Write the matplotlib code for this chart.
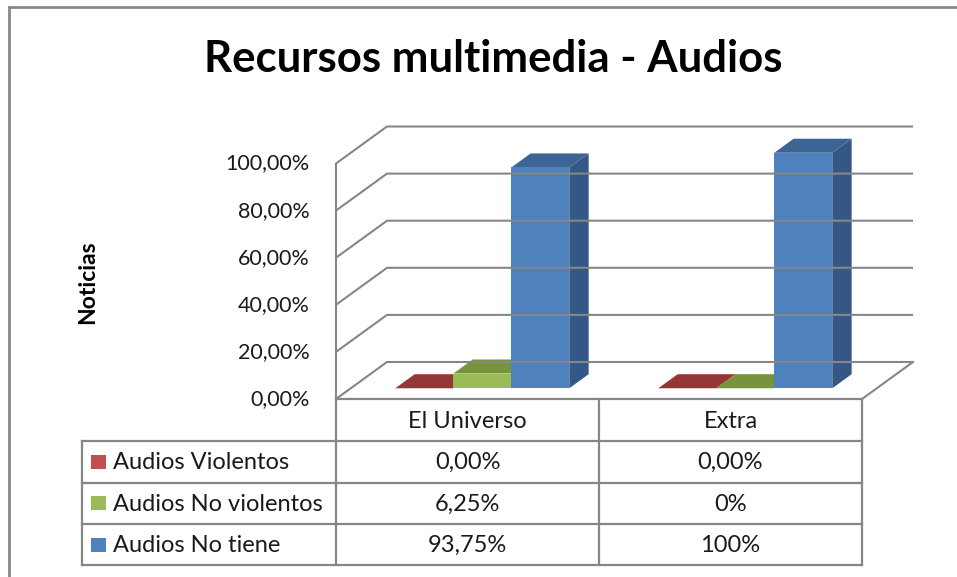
import matplotlib
matplotlib.use('Agg')
import matplotlib.pyplot as plt
from matplotlib.patches import Polygon, Rectangle

# ---------------- data ----------------
categories = ['El Universo', 'Extra']
series_names = ['Audios Violentos', 'Audios No violentos', 'Audios No tiene']
violentos = [0.0, 0.0]
no_violentos = [6.25, 0.0]
no_tiene = [93.75, 100.0]
table_values = [['0,00%', '0,00%'],
                ['6,25%', '0%'],
                ['93,75%', '100%']]
y_ticks = [0, 20, 40, 60, 80, 100]
y_tick_labels = ['0,00%', '20,00%', '40,00%', '60,00%', '80,00%', '100,00%']
title_text = 'Recursos multimedia - Audios'
y_label = 'Noticias'

# ---------------- style ----------------
FONT = ['Lato', 'DejaVu Sans']
plt.rcParams['font.family'] = FONT
front_cols = ['#C0504D', '#9BBB59', '#4F81BD']
side_cols = ['#8C3836', '#718B3E', '#345785']
top_cols = ['#953735', '#77933C', '#3C6494']
GRID = '#868686'

W, H = 957, 577
fig = plt.figure(figsize=(W / 100, H / 100), dpi=100)

# overlay axes in pixel coordinates (table, texts, border)
ov = fig.add_axes([0, 0, 1, 1], zorder=0)
ov.set_xlim(0, W)
ov.set_ylim(H, 0)
ov.axis('off')

# plot axes: front plane of the 3-D box
X0, X1 = 336, 862          # pixel x of category 0 and 2
Y0, Y100 = 399, 163.5      # pixel y of 0 % and 100 %
ax = fig.add_axes([X0 / W, 1 - Y0 / H, (X1 - X0) / W, (Y0 - Y100) / H], zorder=1)
ax.set_xlim(0, len(categories))
ax.set_ylim(0, 100)
ax.axis('off')
ax.patch.set_alpha(0)

px_per_cat = (X1 - X0) / len(categories)
px_per_pct = (Y0 - Y100) / 100
DX = 51 / px_per_cat       # depth offset in category units
DY = 37 / px_per_pct       # depth offset in percent units
ncat = len(categories)

# back wall grid lines and floor
for t in y_ticks:
    ax.plot([0, DX, ncat + DX], [t, t + DY, t + DY], color=GRID, lw=1.5,
            clip_on=False, solid_joinstyle='miter', solid_capstyle='butt')
ax.plot([0, 0], [0, 100], color=GRID, lw=1.5, clip_on=False)
ax.plot([ncat, ncat + DX], [0, DY], color=GRID, lw=1.5, clip_on=False)

# tick labels
for t, lab in zip(y_ticks, y_tick_labels):
    ax.text(-0.1, t, lab, ha='right', va='center', fontsize=15.5,
            color='#1a1a1a', clip_on=False)

# bars
values = [violentos, no_violentos, no_tiene]
bw = 0.2205
f0, f1 = 0.29, 0.67
ddx = (f1 - f0) * DX
ddy = (f1 - f0) * DY
for i in range(ncat):
    for j, vals in enumerate(values):
        h = vals[i]
        x0 = i + 0.5 + (j - len(values) / 2) * bw + f0 * DX
        y0 = f0 * DY
        side = Polygon([(x0 + bw, y0), (x0 + bw + ddx, y0 + ddy),
                        (x0 + bw + ddx, y0 + h + ddy), (x0 + bw, y0 + h)],
                       closed=True, facecolor=side_cols[j], edgecolor='none',
                       clip_on=False)
        top = Polygon([(x0, y0 + h), (x0 + bw, y0 + h),
                       (x0 + bw + ddx, y0 + h + ddy), (x0 + ddx, y0 + h + ddy)],
                      closed=True, facecolor=top_cols[j], edgecolor='none',
                      clip_on=False)
        front = Rectangle((x0, y0), bw, h, facecolor=front_cols[j],
                          edgecolor='none', clip_on=False)
        for p in (side, top, front):
            ax.add_patch(p)

# ---------------- data table ----------------
LC = 82                     # left edge of table
row_y = [399, 441, 482.5, 524, 565]
col_x = [X0 + k * px_per_cat for k in range(ncat + 1)]
tl = dict(color=GRID, lw=1.6, solid_capstyle='projecting')
# header row (only category columns)
ov.plot([col_x[0], col_x[-1]], [row_y[0], row_y[0]], **tl)
for y in row_y[1:]:
    ov.plot([LC, col_x[-1]], [y, y], **tl)
for x in col_x:
    ov.plot([x, x], [row_y[0], row_y[-1]], **tl)
ov.plot([LC, LC], [row_y[1], row_y[-1]], **tl)

TFS = 17
for k, cat in enumerate(categories):
    cx = (col_x[k] + col_x[k + 1]) / 2
    ov.text(cx, (row_y[0] + row_y[1]) / 2 + 2, cat, ha='center', va='center',
            fontsize=TFS, color='#1a1a1a')
for r, name in enumerate(series_names):
    yc = (row_y[r + 1] + row_y[r + 2]) / 2
    ov.add_patch(Rectangle((91, yc - 7), 15, 14, facecolor=front_cols[r],
                           edgecolor='none'))
    ov.text(113, yc + 1, name, ha='left', va='center', fontsize=TFS,
            color='#1a1a1a')
    for k in range(ncat):
        cx = (col_x[k] + col_x[k + 1]) / 2
        ov.text(cx, yc + 1, table_values[r][k], ha='center', va='center',
                fontsize=TFS, color='#1a1a1a')

# ---------------- titles ----------------
ov.text(493, 59, title_text, ha='center', va='center', fontsize=31.5,
        fontweight='bold', color='black')
ov.text(88, 282, y_label, ha='center', va='center', rotation=90,
        fontsize=16.5, fontweight='bold', color='black')

# outer border (top and left)
ov.plot([9, W], [7, 7], color='#888888', lw=2)
ov.plot([9, 9], [7, H], color='#888888', lw=2)

fig.savefig('out.png', dpi=100)
